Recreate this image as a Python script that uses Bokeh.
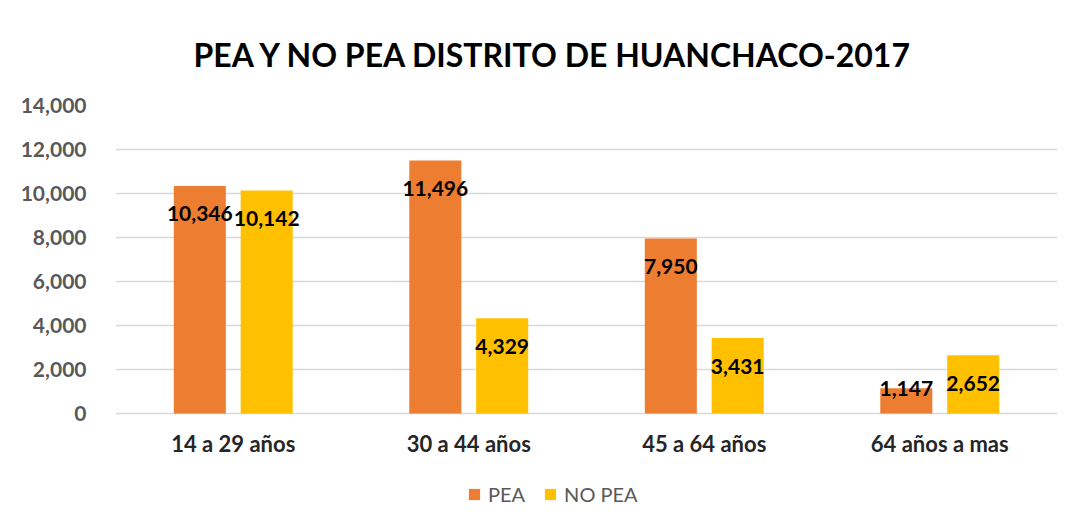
from bokeh.plotting import figure
from bokeh.models import FactorRange, ColumnDataSource, Legend, LegendItem, Title, NumeralTickFormatter, FixedTicker
from bokeh.transform import dodge
from bokeh.core.properties import value
from bokeh.embed import file_html
from bokeh.resources import INLINE

categories = ["14 a 29 años", "30 a 44 años", "45 a 64 años", "64 años a mas"]
pea = [10346, 11496, 7950, 1147]
no_pea = [10142, 4329, 3431, 2652]
y_ticks = [0, 2000, 4000, 6000, 8000, 10000, 12000, 14000]

ORANGE = "#ED7D31"
YELLOW = "#FFC000"
FONT = "Lato"

plot_h = 308            # pixels from 0 to 14,000
below_h = 103           # extra frame room under zero for category names and legend
frame_w = 942
ymax = 14000
px = ymax / plot_h      # data units per pixel


def label_y(v):
    # inside-end label, about 28px below the bar top; short bars keep it at the top
    return v - 28 * px if v > 2000 else v


src = ColumnDataSource(dict(
    cat=categories, pea=pea, no_pea=no_pea,
    pea_txt=[f"{v:,}" for v in pea], no_txt=[f"{v:,}" for v in no_pea],
    pea_y=[label_y(v) for v in pea], no_y=[label_y(v) for v in no_pea],
    cat_y=[-30 * px] * len(categories),
))

p = figure(x_range=FactorRange(*categories), y_range=(-below_h * px, ymax),
           frame_width=frame_w, frame_height=plot_h + below_h,
           output_backend="svg", toolbar_location=None,
           min_border_left=115, min_border_right=14, min_border_top=104, min_border_bottom=5)

p.add_layout(Title(text="PEA Y NO PEA DISTRITO DE HUANCHACO-2017", align="left", offset=78,
                   text_font=FONT, text_font_size="32px", text_font_style="bold",
                   text_color="#000000", standoff=64), "above")

r1 = p.vbar(x=dodge("cat", -0.142, range=p.x_range), top="pea", width=0.221, source=src,
            fill_color=ORANGE, line_color=None)
r2 = p.vbar(x=dodge("cat", 0.142, range=p.x_range), top="no_pea", width=0.221, source=src,
            fill_color=YELLOW, line_color=None)

p.text(x=dodge("cat", -0.142, range=p.x_range), y="pea_y", text="pea_txt", source=src,
       text_align="center", text_baseline="middle", text_font=value(FONT),
       text_font_size="21px", text_font_style="bold", text_color="#000000")
p.text(x=dodge("cat", 0.142, range=p.x_range), y="no_y", text="no_txt", source=src,
       text_align="center", text_baseline="middle", text_font=value(FONT),
       text_font_size="21px", text_font_style="bold", text_color="#000000")

# category names under the bars
p.text(x="cat", y="cat_y", text="cat", source=src,
       text_align="center", text_baseline="middle", text_font=value(FONT),
       text_font_size="22px", text_font_style="bold", text_color="#262626")

p.yaxis.ticker = FixedTicker(ticks=y_ticks)
p.yaxis.formatter = NumeralTickFormatter(format="0,0")
p.yaxis.axis_line_color = None
p.yaxis.major_tick_line_color = None
p.yaxis.minor_tick_line_color = None
p.yaxis.major_label_standoff = 23
p.yaxis.major_label_text_font = FONT
p.yaxis.major_label_text_font_size = "21px"
p.yaxis.major_label_text_font_style = "bold"
p.yaxis.major_label_text_color = "#595959"

p.xaxis.visible = False

p.xgrid.grid_line_color = None
p.ygrid.grid_line_color = "#D9D9D9"
p.ygrid.grid_line_width = 1.5

p.x_range.range_padding = 0

legend = Legend(items=[LegendItem(label="PEA", renderers=[r1]),
                       LegendItem(label="NO PEA", renderers=[r2])],
                orientation="horizontal", location=(352, 10),
                label_text_font=FONT, label_text_font_size="20px", label_text_color="#595959",
                glyph_width=14, glyph_height=14, spacing=18, label_standoff=7,
                border_line_color=None, background_fill_alpha=0, margin=0, padding=0)
p.add_layout(legend, "center")

p.outline_line_color = None

open("out.html", "w").write(file_html(p, INLINE))
